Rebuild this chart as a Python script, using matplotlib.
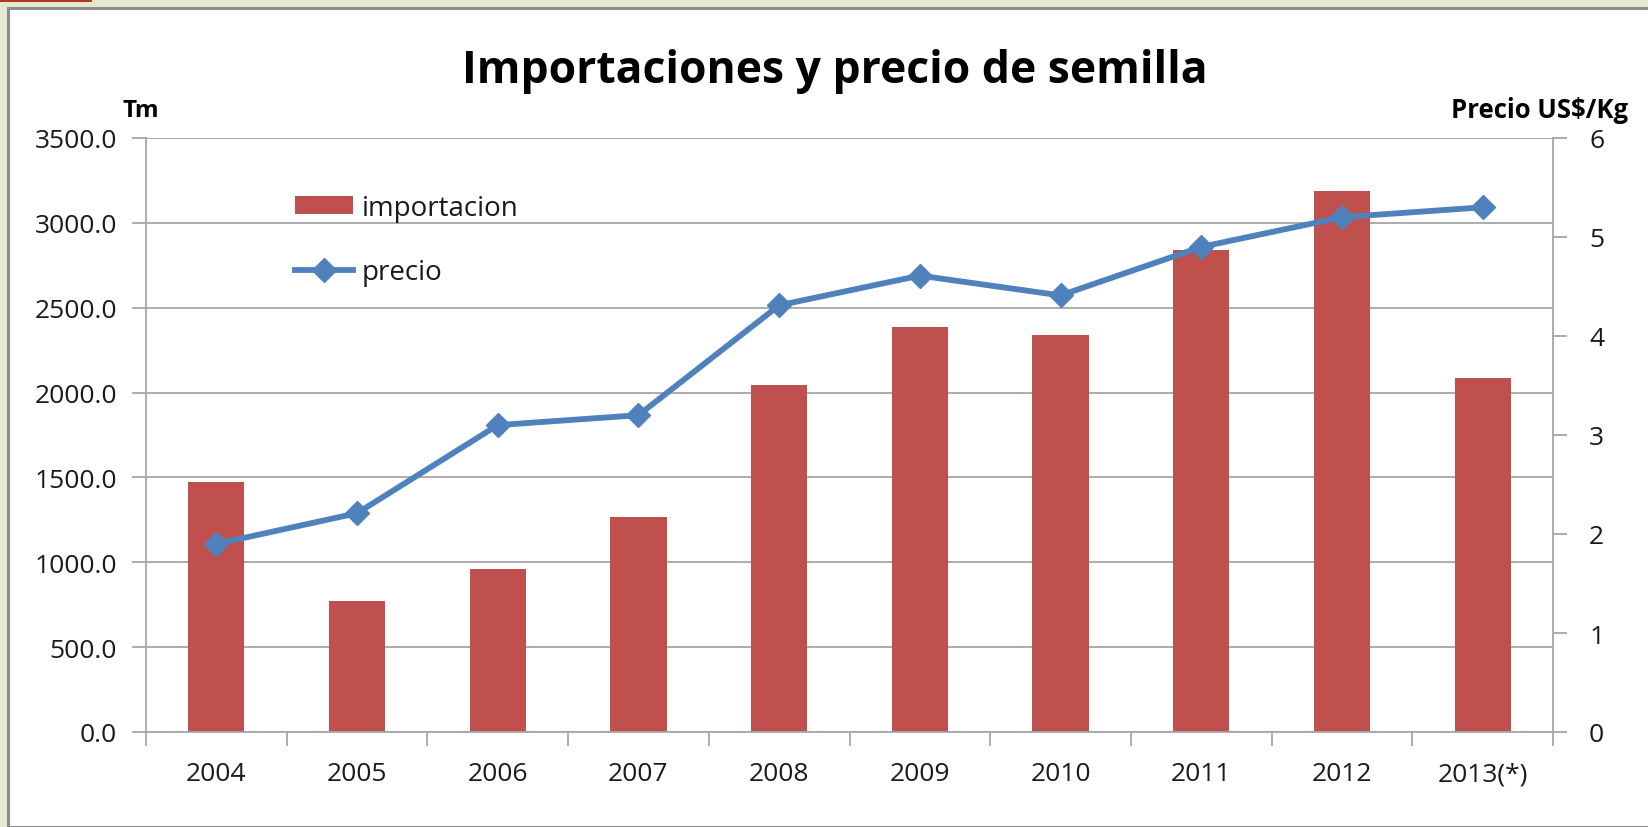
import matplotlib.pyplot as plt
from matplotlib.patches import Rectangle

plt.rcParams['font.family'] = ['Open Sans', 'DejaVu Sans']

# data
years = ["2004", "2005", "2006", "2007", "2008", "2009", "2010", "2011", "2012", "2013(*)"]
importacion = [1474, 774, 960, 1264, 2045, 2385, 2342, 2838, 3185, 2088]
precio = [1.90, 2.21, 3.10, 3.20, 4.31, 4.61, 4.41, 4.90, 5.20, 5.30]

W, H = 1648, 828
red = "#C0504D"
blue = "#4F81BD"
grey = "#A6A6A6"
txt = "#1a1a1a"

fig = plt.figure(figsize=(W / 100, H / 100), dpi=100)
fig.patch.set_facecolor("#E6E9CF")

# white chart panel with grey border, and the little red strip at the top
fig.patches.append(Rectangle((8 / W, 0), 1 - 8 / W + 0.01, 1 - 9 / H,
                             transform=fig.transFigure, facecolor="white",
                             edgecolor="#8C8C8C", linewidth=2.2, zorder=-2))
fig.patches.append(Rectangle((0, 1 - 3 / H), 92 / W, 3 / H,
                             transform=fig.transFigure, facecolor="#B03A1E",
                             edgecolor="none", zorder=-1))

x0, x1, y0, y1 = 146, 1553, 139, 733
ax = fig.add_axes([x0 / W, 1 - y1 / H, (x1 - x0) / W, (y1 - y0) / H])
ax.set_facecolor("none")

pos = list(range(len(years)))
bars = ax.bar(pos, importacion, width=0.4, color=red, zorder=2, label="importacion")

ax.set_xlim(-0.5, len(years) - 0.5)
ax.set_ylim(0, 3500)
ax.set_yticks([i * 500 for i in range(8)])
ax.set_yticklabels([f"{i * 500:.1f}" for i in range(8)])
ax.grid(axis="y", color=grey, linewidth=1.3, zorder=0)
ax.set_axisbelow(True)

ax.set_xticks(pos)
ax.set_xticklabels(years)
ax.set_xticks([p - 0.5 for p in range(len(years) + 1)], minor=True)
ax.tick_params(axis="x", which="major", length=0, pad=21, labelsize=19, labelcolor=txt)
ax.tick_params(axis="x", which="minor", length=10, width=1.3, color=grey, direction="out")
ax.tick_params(axis="y", length=10, width=1.3, color=grey, pad=11, labelsize=19, labelcolor=txt)

for s in ["top", "right"]:
    ax.spines[s].set_visible(False)
for s in ["left", "bottom"]:
    ax.spines[s].set_color(grey)
    ax.spines[s].set_linewidth(1.3)

ax2 = ax.twinx()
line, = ax2.plot(pos, precio, color=blue, linewidth=4.2, marker="D",
                 markersize=12, label="precio", zorder=3)
ax2.set_ylim(0, 6)
ax2.set_yticks(range(7))
ax2.tick_params(axis="y", length=10, width=1.3, color=grey, pad=16, labelsize=19, labelcolor=txt)
for s in ["top", "left", "bottom"]:
    ax2.spines[s].set_visible(False)
ax2.spines["right"].set_color(grey)
ax2.spines["right"].set_linewidth(1.3)

ax2.legend([bars, line], ["importacion", "precio"], loc="upper left",
           bbox_to_anchor=(295 / W, 1 - 195 / H), bbox_transform=fig.transFigure,
           frameon=False, fontsize=20, handlelength=2.1, handleheight=0.6,
           handletextpad=0.3, labelspacing=1.3, borderpad=0, borderaxespad=0,
           labelcolor=txt)

fig.text(835 / W, 1 - 83 / H, "Importaciones y precio de semilla", ha="center",
         va="baseline", fontsize=32, fontweight="bold", color="black")
fig.text(123 / W, 1 - 117 / H, "Tm", ha="left", va="baseline",
         fontsize=17.5, fontweight="bold", color="black")
fig.text(1628 / W, 1 - 118 / H, "Precio US$/Kg", ha="right", va="baseline",
         fontsize=18.5, fontweight="bold", color="black")

fig.savefig("out.png", dpi=100, facecolor=fig.get_facecolor())
